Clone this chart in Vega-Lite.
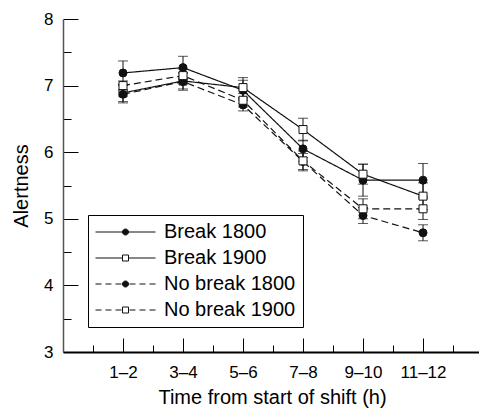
{
  "$schema": "https://vega.github.io/schema/vega-lite/v6.json",
  "autosize": "none",
  "width": 416,
  "height": 333,
  "padding": {"left": 63, "top": 19, "right": 0, "bottom": 56},
  "background": "white",
  "config": {
    "font": "Liberation Sans",
    "view": {"stroke": null},
    "axis": {"grid": false, "labelColor": "black", "titleColor": "black", "titleFontWeight": "normal", "tickColor": "black", "labelOverlap": false, "labelFlush": false},
    "legend": {
      "title": null, "orient": "none", "legendX": 25, "legendY": 196,
      "padding": 7, "strokeColor": "black", "fillColor": "white",
      "symbolSize": 3600, "symbolStrokeWidth": 1, "symbolOpacity": 1, "clipHeight": 20,
      "labelFontSize": 20, "labelColor": "black", "labelOffset": 8, "rowPadding": 6
    }
  },
  "data": {
    "values": [
      {"series": "Break 1800", "t": 1, "m": 7.19, "se": 0.18},
      {"series": "Break 1800", "t": 2, "m": 7.27, "se": 0.17},
      {"series": "Break 1800", "t": 3, "m": 6.93, "se": 0.15},
      {"series": "Break 1800", "t": 4, "m": 6.05, "se": 0.13},
      {"series": "Break 1800", "t": 5, "m": 5.58, "se": 0.24},
      {"series": "Break 1800", "t": 6, "m": 5.58, "se": 0.25},
      {"series": "Break 1900", "t": 1, "m": 6.89, "se": 0.13},
      {"series": "Break 1900", "t": 2, "m": 7.07, "se": 0.12},
      {"series": "Break 1900", "t": 3, "m": 6.97, "se": 0.15},
      {"series": "Break 1900", "t": 4, "m": 6.34, "se": 0.17},
      {"series": "Break 1900", "t": 5, "m": 5.67, "se": 0.15},
      {"series": "Break 1900", "t": 6, "m": 5.34, "se": 0.2},
      {"series": "No break 1800", "t": 1, "m": 6.87, "se": 0.13},
      {"series": "No break 1800", "t": 2, "m": 7.06, "se": 0.13},
      {"series": "No break 1800", "t": 3, "m": 6.71, "se": 0.09},
      {"series": "No break 1800", "t": 4, "m": 5.86, "se": 0.12},
      {"series": "No break 1800", "t": 5, "m": 5.05, "se": 0.12},
      {"series": "No break 1800", "t": 6, "m": 4.79, "se": 0.12},
      {"series": "No break 1900", "t": 1, "m": 7.0, "se": 0.07},
      {"series": "No break 1900", "t": 2, "m": 7.15, "se": 0.1},
      {"series": "No break 1900", "t": 3, "m": 6.78, "se": 0.1},
      {"series": "No break 1900", "t": 4, "m": 5.87, "se": 0.15},
      {"series": "No break 1900", "t": 5, "m": 5.15, "se": 0.15},
      {"series": "No break 1900", "t": 6, "m": 5.15, "se": 0.16}
    ]
  },
  "encoding": {
    "x": {
      "field": "t", "type": "quantitative",
      "scale": {"domain": [0, 6.933], "nice": false, "zero": false},
      "axis": {
        "title": "Time from start of shift (h)",
        "values": [0.5, 1, 1.5, 2, 2.5, 3, 3.5, 4, 4.5, 5, 5.5, 6, 6.5],
        "labelExpr": "datum.value % 1 ? '' : ['', '1–2', '3–4', '5–6', '7–8', '9–10', '11–12'][datum.value]",
        "tickSize": {"condition": {"test": "datum.value % 1 !== 0", "value": -7}, "value": -14},
        "labelPadding": 26,
        "labelFontSize": 17,
        "titleFontSize": 20,
        "titleBaseline": "alphabetic",
        "titleAlign": "center",
        "titleX": 209,
        "titleY": 51,
        "domainColor": "black",
        "domainWidth": 2
      }
    },
    "y": {
      "field": "m", "type": "quantitative",
      "scale": {"domain": [3, 8], "nice": false, "zero": false},
      "axis": {
        "title": "Alertness",
        "values": [3, 3.5, 4, 4.5, 5, 5.5, 6, 6.5, 7, 7.5, 8],
        "labelExpr": "datum.value % 1 ? '' : '' + datum.value",
        "tickSize": {"condition": {"test": "datum.value % 1 !== 0", "value": -8}, "value": -15},
        "labelPadding": 25,
        "labelFontSize": 17,
        "titleFontSize": 20,
        "titleBaseline": "alphabetic",
        "titleX": -36,
        "domainColor": "#555555",
        "domainWidth": 1.5
      }
    }
  },
  "layer": [
    {
      "mark": {"type": "errorbar", "ticks": {"size": 10, "thickness": 1, "color": "#111111"}, "rule": {"color": "#111111", "strokeWidth": 1}},
      "encoding": {
        "yError": {"field": "se"},
        "detail": {"field": "series"}
      }
    },
    {
      "mark": {"type": "line", "color": "#111111", "strokeWidth": 1.2},
      "encoding": {
        "strokeDash": {
          "field": "series", "type": "nominal", "legend": null,
          "scale": {"domain": ["Break 1800", "Break 1900", "No break 1800", "No break 1900"], "range": [[1, 0], [1, 0], [7, 4], [7, 4]]}
        }
      }
    },
    {
      "mark": {"type": "point", "filled": true, "stroke": "#111111", "strokeWidth": 1, "opacity": 1, "size": 64},
      "encoding": {
        "shape": {
          "field": "series", "type": "nominal", "legend": null,
          "scale": {"domain": ["Break 1800", "Break 1900", "No break 1800", "No break 1900"], "range": ["circle", "square", "circle", "square"]}
        },
        "fill": {
          "field": "series", "type": "nominal", "legend": null,
          "scale": {"domain": ["Break 1800", "Break 1900", "No break 1800", "No break 1900"], "range": ["#111111", "white", "#111111", "white"]}
        }
      }
    },
    {
      "transform": [{"filter": "datum.t > 100"}],
      "mark": {"type": "point", "filled": true, "strokeWidth": 1, "opacity": 1},
      "encoding": {
        "shape": {
          "field": "series", "type": "nominal",
          "scale": {
            "domain": ["Break 1800", "Break 1900", "No break 1800", "No break 1900"],
            "range": [
              "M-1,0H-0.1M0.1,0H1M0.1,0A0.1,0.1,0,1,1,-0.1,0A0.1,0.1,0,1,1,0.1,0Z",
              "M-1,0H-0.1M0.1,0H1M-0.1,-0.1H0.1V0.1H-0.1Z",
              "M-1,0H-0.8M-0.667,0H-0.467M-0.333,0H-0.133M0.133,0H0.333M0.467,0H0.667M0.8,0H1M0.1,0A0.1,0.1,0,1,1,-0.1,0A0.1,0.1,0,1,1,0.1,0Z",
              "M-1,0H-0.8M-0.667,0H-0.467M-0.333,0H-0.133M0.133,0H0.333M0.467,0H0.667M0.8,0H1M-0.1,-0.1H0.1V0.1H-0.1Z"
            ]
          }
        },
        "fill": {
          "field": "series", "type": "nominal",
          "scale": {"domain": ["Break 1800", "Break 1900", "No break 1800", "No break 1900"], "range": ["#111111", "white", "#111111", "white"]}
        },
        "stroke": {
          "field": "series", "type": "nominal",
          "scale": {"domain": ["Break 1800", "Break 1900", "No break 1800", "No break 1900"], "range": ["#111111", "#111111", "#111111", "#111111"]}
        }
      }
    }
  ],
  "resolve": {"scale": {"shape": "independent", "fill": "independent", "stroke": "independent"}}
}
